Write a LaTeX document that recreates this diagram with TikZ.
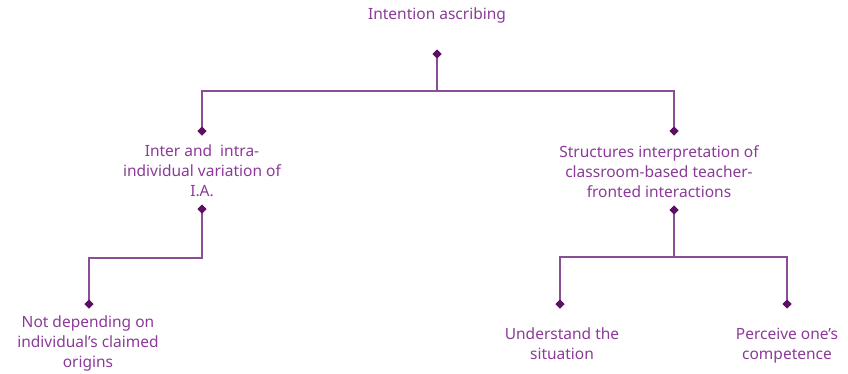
\documentclass[tikz,border=0pt]{standalone}
\usepackage{fontspec}
\setmainfont{Noto Sans}
\usetikzlibrary{shapes.geometric}
\definecolor{linec}{HTML}{8A4E97}
\definecolor{textc}{HTML}{8B3A98}
\definecolor{dmc}{HTML}{5C0F63}
\begin{document}
\begin{tikzpicture}[x=1pt,y=-1pt,
  lbl/.style={text=textc,align=center,inner sep=0pt,anchor=base,font=\fontsize{15.5}{19.6}\selectfont},
  dm/.style={diamond,fill=dmc,draw=none,minimum width=9pt,minimum height=9pt,inner sep=0pt},
  conn/.style={draw=linec,line width=1.4pt}]
\useasboundingbox (0,0) rectangle (848,373);
% root
\node[lbl] (root) at (437,19) {Intention ascribing};
\node[dm] (d0) at (437,54) {};
\coordinate (j0) at (437,91);
% level 1
\node[dm] (d1) at (202,131) {};
\node[lbl] (t1) at (202,196) {Inter and\ \ intra-\\individual variation of\\I.A.};
\node[dm] (d1b) at (202,209) {};
\coordinate (j1) at (202,258);
\node[dm] (d2) at (674,131) {};
\node[lbl] (t2) at (659,197) {Structures interpretation of\\classroom-based teacher-\\fronted interactions};
\node[dm] (d2b) at (674,210) {};
\coordinate (j2) at (674,257);
% level 2
\node[dm] (d3) at (89,304) {};
\node[lbl] (t3) at (88,367) {Not depending on\\individual’s claimed\\origins};
\node[dm] (d4) at (560,304) {};
\node[lbl] (t4) at (562,359) {Understand the\\situation};
\node[dm] (d5) at (787,304) {};
\node[lbl] (t5) at (787,359) {Perceive one’s\\competence};
% connectors
\draw[conn] (d0.center) -- (j0) -| (d1.center);
\draw[conn] (j0) -| (d2.center);
\draw[conn] (d1b.center) -- (j1) -| (d3.center);
\draw[conn] (d2b.center) -- (j2) -| (d4.center);
\draw[conn] (j2) -| (d5.center);
% redraw diamonds on top
\foreach \p in {(437,54),(202,131),(202,209),(674,131),(674,210),(89,304),(560,304),(787,304)}{
  \fill[dmc] \p ++(0,-4.5) -- ++(4.5,4.5) -- ++(-4.5,4.5) -- ++(-4.5,-4.5) -- cycle;
}
\end{tikzpicture}
\end{document}
